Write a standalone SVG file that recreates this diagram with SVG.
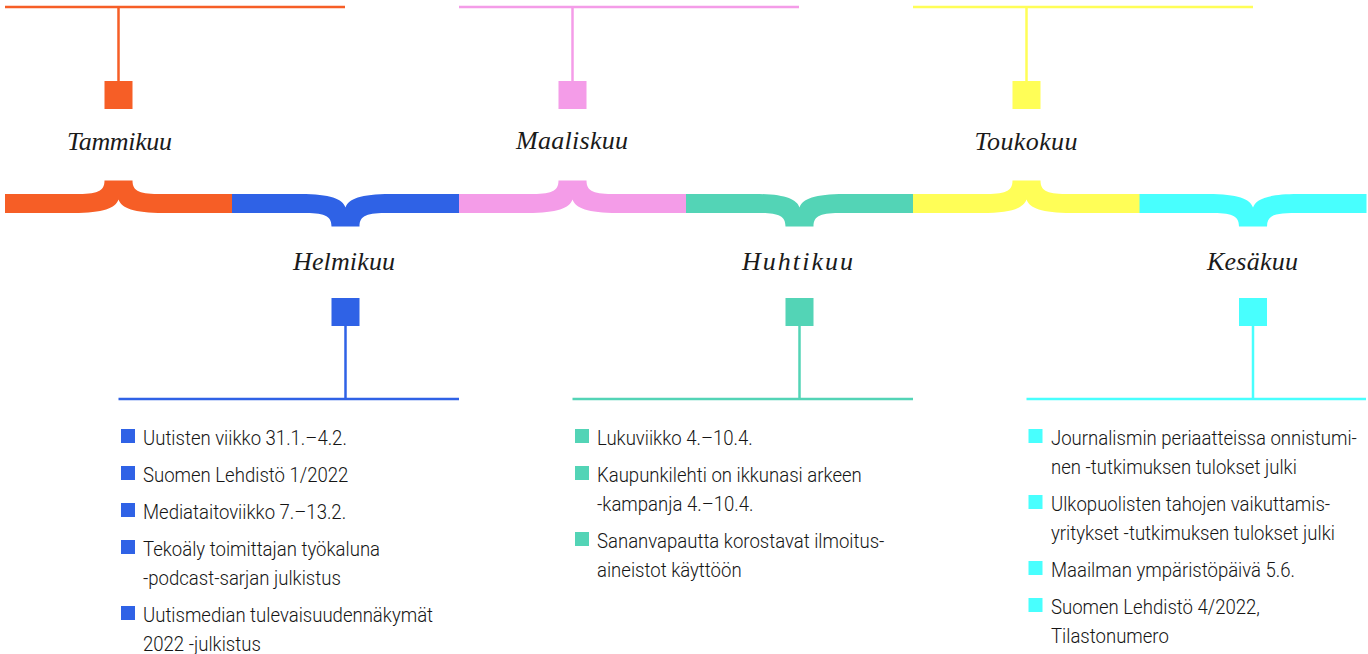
<svg xmlns="http://www.w3.org/2000/svg" width="1368" height="654" viewBox="0 0 1368 654">
<style>
.hw{font-family:"Liberation Serif",serif;font-style:italic;font-size:26px;fill:#1a1a1a;text-anchor:middle}
.li{font-family:Roboto,"Liberation Sans",sans-serif;font-weight:300;font-size:20.5px;fill:#151515}
.ln{fill:none;stroke-width:2.5}
.or{fill:#F65E26}.bl{fill:#2F62E6}.pk{fill:#F49CE8}.te{fill:#53D4B6}.ye{fill:#FFFE57}.cy{fill:#48FFFE}
.sor{stroke:#F65E26}.sbl{stroke:#2F62E6}.spk{stroke:#F49CE8}.ste{stroke:#53D4B6}.sye{stroke:#FFFE57}.scy{stroke:#48FFFE}
</style>
<defs>
<path id="brace" d="M-113.5,-9.5 H-43 C-22,-9.5 -14,-11.5 -14,-23 H14 C14,-11.5 22,-9.5 43,-9.5 H113.5 V9.5 H45 C15,9.5 3,4.5 0,-4 C-3,4.5 -15,9.5 -45,9.5 H-113.5 Z"/>
</defs>
<rect width="1368" height="654" fill="#fff"/>

<g id="connectors">
  <line class="ln sor" x1="5" y1="7" x2="345" y2="7"/>
  <line class="ln sor" x1="118.5" y1="7" x2="118.5" y2="82"/>
  <line class="ln spk" x1="459" y1="7" x2="799" y2="7"/>
  <line class="ln spk" x1="572.5" y1="7" x2="572.5" y2="82"/>
  <line class="ln sye" x1="913" y1="7" x2="1253" y2="7"/>
  <line class="ln sye" x1="1026.5" y1="7" x2="1026.5" y2="82"/>
  <line class="ln sbl" x1="345.5" y1="325" x2="345.5" y2="399"/>
  <line class="ln sbl" x1="118.5" y1="399" x2="459" y2="399"/>
  <line class="ln ste" x1="799.5" y1="325" x2="799.5" y2="399"/>
  <line class="ln ste" x1="572.5" y1="399" x2="913" y2="399"/>
  <line class="ln scy" x1="1253" y1="325" x2="1253" y2="399"/>
  <line class="ln scy" x1="1026.5" y1="399" x2="1366" y2="399"/>
</g>

<g id="tammikuu">
  <rect class="or" x="104.5" y="81" width="28" height="28"/>
  <text class="hw" x="119.5" y="150" textLength="105">Tammikuu</text>
  <use href="#brace" class="or" transform="translate(118.5,203.5)"/>
</g>
<g id="helmikuu">
  <use href="#brace" class="bl" transform="translate(345.5,203.5) scale(1,-1)"/>
  <text class="hw" x="344" y="270" textLength="102">Helmikuu</text>
  <rect class="bl" x="331.5" y="298" width="28" height="28"/>
  <rect class="bl" x="121" y="429" width="14" height="14"/>
  <rect class="bl" x="121" y="466" width="14" height="14"/>
  <rect class="bl" x="121" y="503" width="14" height="14"/>
  <rect class="bl" x="121" y="540" width="14" height="14"/>
  <rect class="bl" x="121" y="606" width="14" height="14"/>
  <g transform="translate(143,0) scale(0.905,1)">
    <text class="li" x="0" y="445">Uutisten viikko 31.1.–4.2.</text>
    <text class="li" x="0" y="482">Suomen Lehdistö 1/2022</text>
    <text class="li" x="0" y="519">Mediataitoviikko 7.–13.2.</text>
    <text class="li" x="0" y="556">Tekoäly toimittajan työkaluna</text>
    <text class="li" x="0" y="585">-podcast-sarjan julkistus</text>
    <text class="li" x="0" y="622">Uutismedian tulevaisuudennäkymät</text>
    <text class="li" x="0" y="651">2022 -julkistus</text>
  </g>
</g>
<g id="maaliskuu">
  <rect class="pk" x="558.5" y="81" width="28" height="28"/>
  <text class="hw" x="572" y="149" textLength="112">Maaliskuu</text>
  <use href="#brace" class="pk" transform="translate(572.5,203.5)"/>
</g>
<g id="huhtikuu">
  <use href="#brace" class="te" transform="translate(799.5,203.5) scale(1,-1)"/>
  <text class="hw" x="797.5" y="270" textLength="111">Huhtikuu</text>
  <rect class="te" x="785.5" y="298" width="28" height="28"/>
  <rect class="te" x="575" y="429" width="14" height="14"/>
  <rect class="te" x="575" y="466" width="14" height="14"/>
  <rect class="te" x="575" y="532" width="14" height="14"/>
  <g transform="translate(597,0) scale(0.905,1)">
    <text class="li" x="0" y="445">Lukuviikko 4.–10.4.</text>
    <text class="li" x="0" y="482">Kaupunkilehti on ikkunasi arkeen</text>
    <text class="li" x="0" y="511">-kampanja 4.–10.4.</text>
    <text class="li" x="0" y="548">Sananvapautta korostavat ilmoitus-</text>
    <text class="li" x="0" y="577">aineistot käyttöön</text>
  </g>
</g>
<g id="toukokuu">
  <rect class="ye" x="1012.5" y="81" width="28" height="28"/>
  <text class="hw" x="1026" y="150" textLength="103">Toukokuu</text>
  <use href="#brace" class="ye" transform="translate(1026.5,203.5)"/>
</g>
<g id="kesakuu">
  <use href="#brace" class="cy" transform="translate(1253,203.5) scale(1,-1)"/>
  <text class="hw" x="1252.5" y="270" textLength="91">Kesäkuu</text>
  <rect class="cy" x="1239" y="298" width="28" height="28"/>
  <rect class="cy" x="1028.5" y="429" width="14" height="14"/>
  <rect class="cy" x="1028.5" y="495" width="14" height="14"/>
  <rect class="cy" x="1028.5" y="561" width="14" height="14"/>
  <rect class="cy" x="1028.5" y="598" width="14" height="14"/>
  <g transform="translate(1051,0) scale(0.905,1)">
    <text class="li" x="0" y="445">Journalismin periaatteissa onnistumi-</text>
    <text class="li" x="0" y="474">nen -tutkimuksen tulokset julki</text>
    <text class="li" x="0" y="511">Ulkopuolisten tahojen vaikuttamis-</text>
    <text class="li" x="0" y="540">yritykset -tutkimuksen tulokset julki</text>
    <text class="li" x="0" y="577">Maailman ympäristöpäivä 5.6.</text>
    <text class="li" x="0" y="614">Suomen Lehdistö 4/2022,</text>
    <text class="li" x="0" y="643">Tilastonumero</text>
  </g>
</g>
</svg>
